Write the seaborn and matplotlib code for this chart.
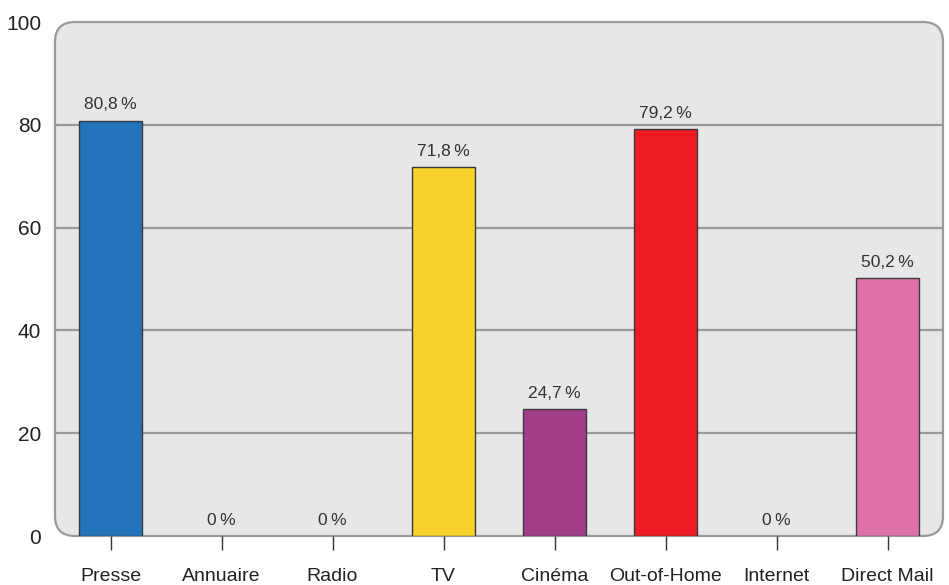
from matplotlib import pyplot as plt
from matplotlib.patches import FancyBboxPatch
import pandas as pd
import seaborn as sns

# data
media = ["Presse", "Annuaire", "Radio", "TV", "Cinéma", "Out-of-Home", "Internet", "Direct Mail"]
shares = [80.8, 0, 0, 71.8, 24.7, 79.2, 0, 50.2]
bar_colors = ["#2474bc", "#999999", "#999999", "#f7d22a", "#a23d8a", "#ed1c24", "#999999", "#dd72aa"]
y_ticks = [0, 20, 40, 60, 80, 100]

df = pd.DataFrame({"media": media, "share": shares})

sns.set_theme(style="white")
plt.rcParams["font.family"] = ["Liberation Sans", "DejaVu Sans"]

fig = plt.figure(figsize=(9.49, 5.85), dpi=100)
ax = fig.add_axes([55 / 949, 1 - 536 / 585, 888 / 949, 514 / 585])
ax.set_facecolor("none")

# rounded grey panel behind the bars
w_px, h_px = 888, 514
panel = FancyBboxPatch((0, 0), 1, 1, boxstyle="round,pad=0,rounding_size=%f" % (20 / w_px),
                       mutation_aspect=w_px / h_px, transform=ax.transAxes,
                       facecolor="#e6e7e9", edgecolor="#9a9a9a", linewidth=1.6,
                       zorder=0, clip_on=False)
ax.add_patch(panel)

for y in y_ticks[1:-1]:
    ax.axhline(y, color="#9a9a9a", linewidth=1.6, zorder=1)

sns.barplot(data=df, x="media", y="share", hue="media", palette=dict(zip(media, bar_colors)),
            legend=False, width=0.57, saturation=1, edgecolor="#3a3a3a", linewidth=1.0,
            ax=ax, zorder=2)

# zero bars should not leave an outline on the baseline
for patch, v in zip(ax.patches[1:], shares):
    if v == 0:
        patch.set_linewidth(0)

for i, v in enumerate(shares):
    lbl = ("%.1f" % v).replace(".", ",") if v else "0"
    ax.annotate(lbl + "\u2009%", (i, v), xytext=(0, 6), textcoords="offset points",
                ha="center", va="bottom", fontsize=12.5, color="#333333")

ax.set_xlim(-0.5, len(media) - 0.5)
ax.set_ylim(0, 100)
ax.set_yticks(y_ticks)
ax.set_xlabel("")
ax.set_ylabel("")
sns.despine(ax=ax, left=True, bottom=True, right=True, top=True)
ax.tick_params(axis="y", length=0, pad=10, labelsize=15, labelcolor="#222222")
ax.tick_params(axis="x", length=10, width=1, color="#333333", pad=13,
               labelsize=14, labelcolor="#222222", direction="out", bottom=True)

plt.savefig("out.png", dpi=100)
